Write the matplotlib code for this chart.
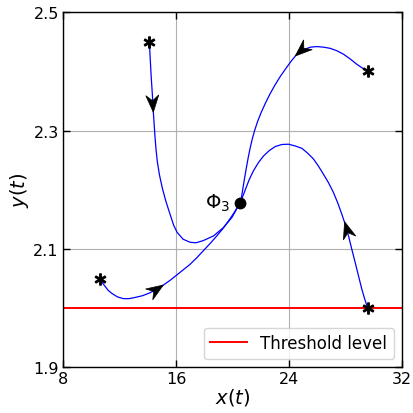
import numpy as np
import matplotlib
matplotlib.use('Agg')
import matplotlib.pyplot as plt
from matplotlib.patches import Polygon

# Trajectories, in travel order from start (*) to Phi_3
c1_x = [14.11, 14.173, 14.237, 14.322, 14.393, 14.450, 14.506, 14.580, 14.680, 14.830, 15.030,
        15.278, 15.575, 15.830, 16.071, 16.496, 16.991, 17.416, 17.933, 18.641, 19.349, 19.943,
        20.226, 20.481]
c1_y = [2.449, 2.421, 2.392, 2.361, 2.3305, 2.3107, 2.2904, 2.2685, 2.2465, 2.2245, 2.2026,
        2.1806, 2.1586, 2.1400, 2.1282, 2.1164, 2.1113, 2.1104, 2.1142, 2.1219, 2.1361, 2.1530,
        2.1649, 2.1784]

c2_x = [29.57, 29.22, 28.79, 28.32, 27.85, 27.37, 26.90, 26.43, 25.96, 25.50, 25.05, 24.54,
        24.177, 23.809, 23.391, 22.995, 22.641, 22.322, 22.032, 21.777, 21.565, 21.388, 21.225,
        21.083, 20.956, 20.835, 20.708, 20.581]
c2_y = [2.400, 2.405, 2.412, 2.421, 2.429, 2.435, 2.439, 2.441, 2.442, 2.441, 2.437, 2.429,
        2.4184, 2.4065, 2.3922, 2.3770, 2.3618, 2.3465, 2.3313, 2.3161, 2.3009, 2.2857, 2.2688,
        2.2519, 2.2350, 2.2181, 2.1995, 2.1809]

c3_x = [29.55, 29.31, 29.14, 28.91, 28.67, 28.43, 28.20, 27.96, 27.72, 27.45, 27.14, 26.78, 26.43,
        26.07, 25.72, 25.30, 24.90, 24.43, 23.95, 23.48, 23.01, 22.58, 22.18, 21.83, 21.47, 21.19,
        20.96, 20.77, 20.58]
c3_y = [2.000, 2.018, 2.032, 2.054, 2.077, 2.0995, 2.122, 2.142, 2.159, 2.177, 2.195, 2.212, 2.226,
        2.240, 2.252, 2.262, 2.270, 2.274, 2.277, 2.2765, 2.273, 2.266, 2.257, 2.246, 2.232, 2.218,
        2.204, 2.192, 2.181]

c4_x = [10.62, 10.78, 10.97, 11.20, 11.45, 11.85, 12.27, 12.68, 13.10, 13.63, 14.16, 14.63, 15.10,
        15.58, 16.05, 16.52, 16.99, 17.46, 17.93, 18.40, 18.88, 19.30, 19.70, 20.07, 20.41]
c4_y = [2.050, 2.043, 2.037, 2.030, 2.025, 2.019, 2.016, 2.016, 2.018, 2.021, 2.026, 2.032, 2.039,
        2.047, 2.056, 2.065, 2.074, 2.085, 2.097, 2.109, 2.122, 2.134, 2.147, 2.160, 2.173]

curves = [(c1_x, c1_y), (c2_x, c2_y), (c3_x, c3_y), (c4_x, c4_y)]
arrow_tips = [(14.39, 2.331), (24.43, 2.426), (27.92, 2.146), (15.10, 2.039)]

phi3 = (20.5, 2.178)
threshold = 2.0
x_ticks = [8, 16, 24, 32]
y_ticks = [1.9, 2.1, 2.3, 2.5]

fig = plt.figure(figsize=(4.13, 4.14), dpi=100)
ax = fig.add_axes([0.1525, 0.1104, 0.8215, 0.8576])
ax.set_xlim(8, 32)
ax.set_ylim(1.9, 2.5)
ax.set_xticks(x_ticks)
ax.set_yticks(y_ticks)
ax.set_xticklabels([str(t) for t in x_ticks])
ax.set_yticklabels([f"{t:.1f}" for t in y_ticks])
ax.grid(True, color='#b0b0b0', linewidth=0.8)
ax.set_axisbelow(True)
ax.tick_params(direction='in', length=5, width=1, top=True, right=True,
               labelsize=11.5, pad=3)
for s in ax.spines.values():
    s.set_linewidth(1)

ax.axhline(threshold, color='red', linewidth=1.4, label='Threshold level', zorder=2)

for cx, cy in curves:
    ax.plot(cx, cy, color='blue', linewidth=0.9, zorder=3, solid_joinstyle='round')
    ax.plot(cx[0], cy[0], linestyle='none', marker='$\\ast$', color='black',
            markersize=8, zorder=5)

ax.plot(*phi3, 'ko', markersize=7.5, zorder=6)
ax.text(phi3[0] - 0.7, phi3[1], '$\\Phi_3$', fontsize=14, ha='right', va='center')

# arrow heads
T = ax.transData
for (cx, cy), tip in zip(curves, arrow_tips):
    pts = T.transform(np.column_stack([cx, cy]))
    tp = T.transform(tip)
    d = np.hypot(*(pts - tp).T)
    i = int(np.argmin(d))
    i0 = max(i - 1, 0)
    i1 = min(i + 1, len(cx) - 1)
    v = pts[i1] - pts[i0]
    v = v / np.hypot(*v)
    n = np.array([-v[1], v[0]])
    L, W, N = 17.0, 6.5, 5.5
    poly_px = np.array([tp,
                        tp - L * v + W * n,
                        tp - (L - N) * v,
                        tp - L * v - W * n])
    poly = T.inverted().transform(poly_px)
    ax.add_patch(Polygon(poly, closed=True, facecolor='black', edgecolor='black',
                         linewidth=0.5, zorder=4))

ax.set_xlabel('$x(t)$', fontsize=14, labelpad=0)
ax.set_ylabel('$y(t)$', fontsize=14, labelpad=2)
ax.legend(loc='lower right', fontsize=12, handlelength=2.2)

fig.savefig('out.png', dpi=100)
